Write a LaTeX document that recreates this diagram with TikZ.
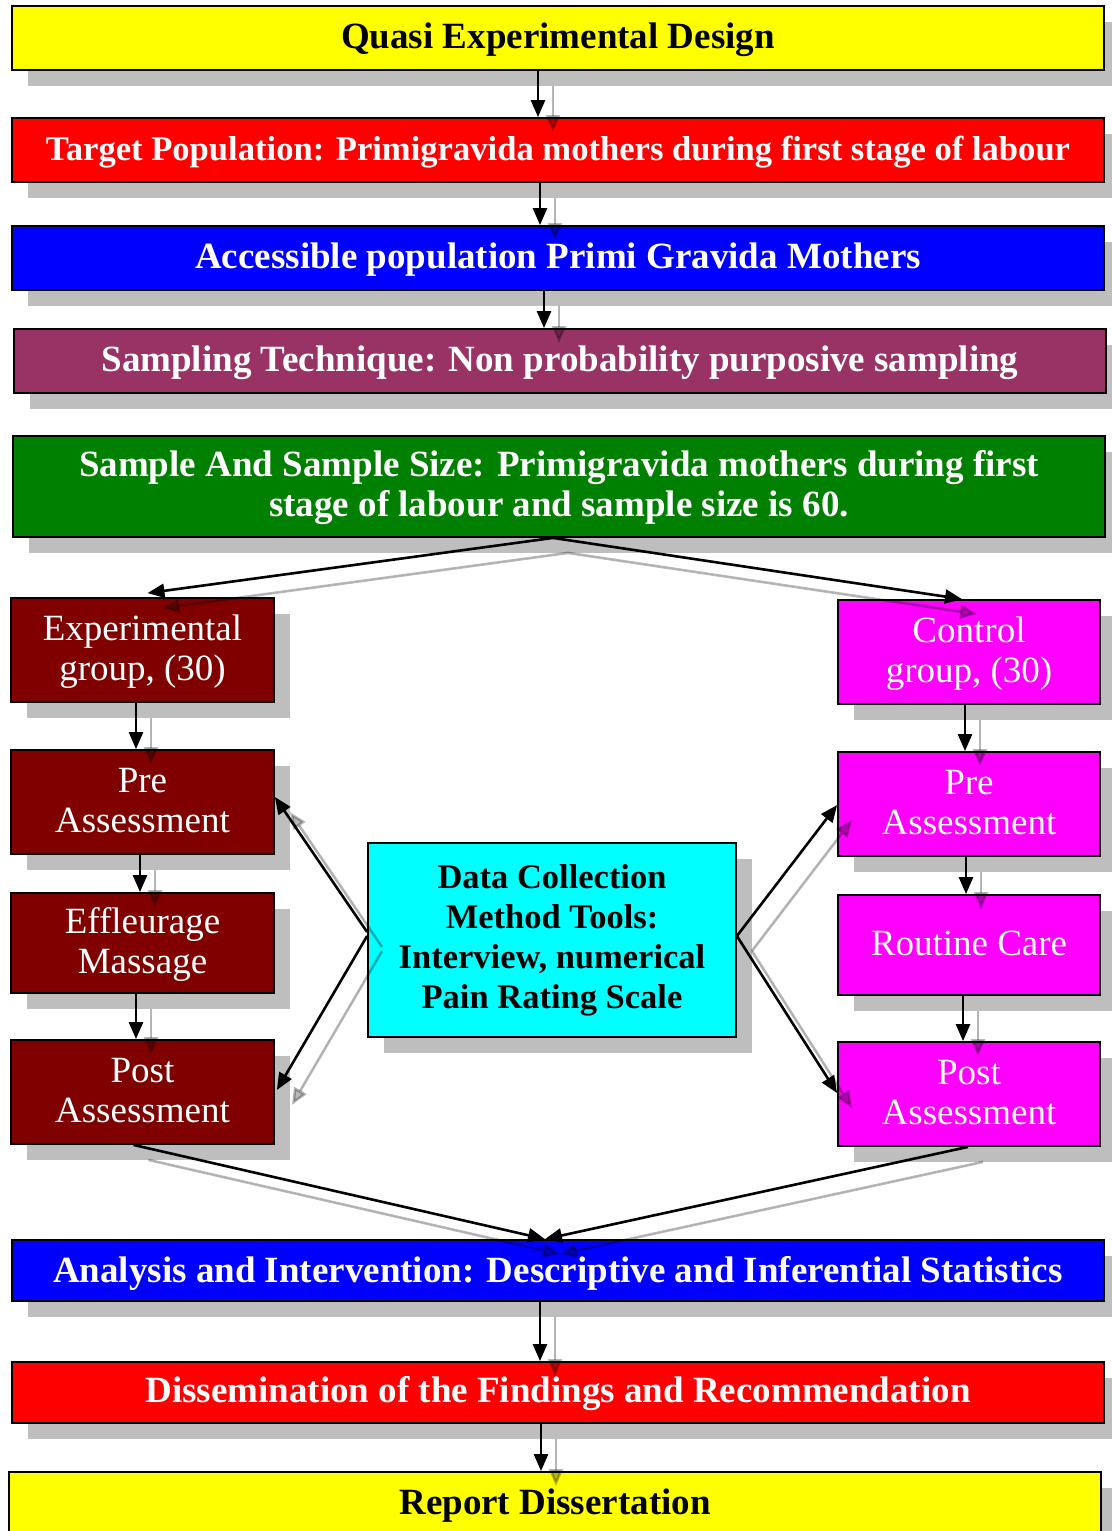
\documentclass[tikz,border=0pt]{standalone}
\usepackage{fontspec}
\setmainfont{Liberation Serif}
\usetikzlibrary{shadows,arrows.meta,calc}
\definecolor{cyel}{HTML}{FFFF00}
\definecolor{cred}{HTML}{FF0000}
\definecolor{cblue}{HTML}{0000FF}
\definecolor{cplum}{HTML}{993366}
\definecolor{cgreen}{HTML}{008000}
\definecolor{cmaroon}{HTML}{800000}
\definecolor{cmag}{HTML}{FF00FF}
\definecolor{ccyan}{HTML}{00FFFF}
\definecolor{shade}{HTML}{BEBEBE}
\begin{document}
\begin{tikzpicture}[x=1pt,y=-1pt,
  box/.style={draw=black,line width=1.8pt,inner sep=0pt,align=center,
    drop shadow={shadow xshift=16pt,shadow yshift=-16pt,fill=shade,opacity=1}},
  oneline/.style={text height=24pt,text depth=4pt},
  twoline/.style={text height=64pt,text depth=4pt},
  wide/.style={box,oneline,minimum width=1092pt,minimum height=64pt,
    font=\bfseries\fontsize{37}{40}\selectfont},
  side/.style={box,twoline,minimum width=263pt,minimum height=104pt,text=white,
    font=\fontsize{37}{40}\selectfont},
  arr/.style={line width=2.6pt,-{Triangle[length=17pt,width=14pt]}},
  sarr/.style={arr,draw=black,fill=black,opacity=0.28,
    transform canvas={shift={(15pt,-15pt)}}},
]
\useasboundingbox (0,0) rectangle (1111,1531);

\node[wide,fill=cyel] (quasi) at (558,38) {Quasi Experimental Design};
\node[wide,fill=cred,text=white,font=\bfseries\fontsize{34.6}{40}\selectfont] (target) at (558,150)
  {Target Population: Primigravida mothers during first stage of labour};
\node[wide,fill=cblue,text=white] (access) at (558,258) {Accessible population Primi Gravida Mothers};
\node[wide,fill=cplum,text=white] (sampling) at (560,361) {Sampling Technique: Non probability purposive sampling};
\node[wide,fill=cgreen,text=white,minimum height=101pt,twoline] (sample) at (559,486.5)
  {Sample And Sample Size: Primigravida mothers during first\\stage of labour and sample size is 60.};

\node[side,fill=cmaroon] (exp) at (142.5,650) {Experimental\\group, (30)};
\node[side,fill=cmaroon] (preL) at (142.5,802) {Pre\\Assessment};
\node[side,fill=cmaroon,minimum height=100pt] (eff) at (142.5,943) {Effleurage\\Massage};
\node[side,fill=cmaroon] (postL) at (142.5,1092) {Post\\Assessment};

\node[side,fill=cmag,minimum width=262pt] (ctrl) at (969,652) {Control\\group, (30)};
\node[side,fill=cmag,minimum width=262pt] (preR) at (969,804) {Pre\\Assessment};
\node[side,fill=cmag,minimum width=262pt,minimum height=100pt,oneline] (routine) at (969,945) {Routine Care};
\node[side,fill=cmag,minimum width=262pt] (postR) at (969,1094) {Post\\Assessment};

\node[box,fill=ccyan,minimum width=368pt,minimum height=194pt,
  font=\bfseries\fontsize{34.5}{40}\selectfont] (data) at (552,940)
  {Data Collection\\Method Tools:\\Interview, numerical\\Pain Rating Scale};

\node[wide,fill=cblue,text=white,minimum height=61pt,text depth=0pt] (analysis) at (558,1270.5)
  {Analysis and Intervention: Descriptive and Inferential Statistics};
\node[wide,fill=cred,text=white,minimum height=61pt] (dissem) at (558,1392.5)
  {Dissemination of the Findings and Recommendation};
\node[wide,fill=cyel] (report) at (555,1504) {Report Dissertation};

% connectors: shadow copy, then black
\foreach \s in {sarr,arr}{
  \draw[\s] ($(quasi.south)+(-20,0)$) -- ($(target.north)+(-20,0)$);
  \draw[\s] ($(target.south)+(-18,0)$) -- ($(access.north)+(-18,0)$);
  \draw[\s] ($(access.south)+(-14,0)$) -- ($(sampling.north)+(-16,0)$);
  \draw[\s] ($(sample.south)+(-6,0)$) -- ($(exp.north)+(5,-4)$);
  \draw[\s] ($(sample.south)+(-6,0)$) -- ($(ctrl.north)+(-7,0)$);
  \draw[\s] ($(exp.south)+(-6.5,0)$) -- ($(preL.north)+(-6.5,0)$);
  \draw[\s] ($(preL.south)+(-2.5,0)$) -- ($(eff.north)+(-2.5,0)$);
  \draw[\s] ($(eff.south)+(-6.5,0)$) -- ($(postL.north)+(-6.5,0)$);
  \draw[\s] ($(ctrl.south)+(-4,0)$) -- ($(preR.north)+(-4,0)$);
  \draw[\s] ($(preR.south)+(-3,0)$) -- ($(routine.north)+(-3,0)$);
  \draw[\s] ($(routine.south)+(-6,0)$) -- ($(postR.north)+(-6,0)$);
  \draw[\s] ($(data.west)+(0,-8)$) -- ($(preL.east)+(0,-5)$);
  \draw[\s] ($(data.west)+(0,-4)$) -- ($(postL.east)+(2,-2)$);
  \draw[\s] ($(data.east)+(0,-4)$) -- ($(preR.west)+(0,1)$);
  \draw[\s] ($(data.east)+(0,-4)$) -- ($(postR.west)+(0,-1)$);
  \draw[\s] ($(postL.south)+(-9,0)$) -- ($(analysis.north)+(-13,0)$);
  \draw[\s] ($(postR.south)+(-1,0)$) -- ($(analysis.north)+(-13,0)$);
  \draw[\s] ($(analysis.south)+(-18,0)$) -- ($(dissem.north)+(-18,0)$);
  \draw[\s] ($(dissem.south)+(-17,0)$) -- ($(report.north)+(-14,0)$);
}
\end{tikzpicture}
\end{document}
